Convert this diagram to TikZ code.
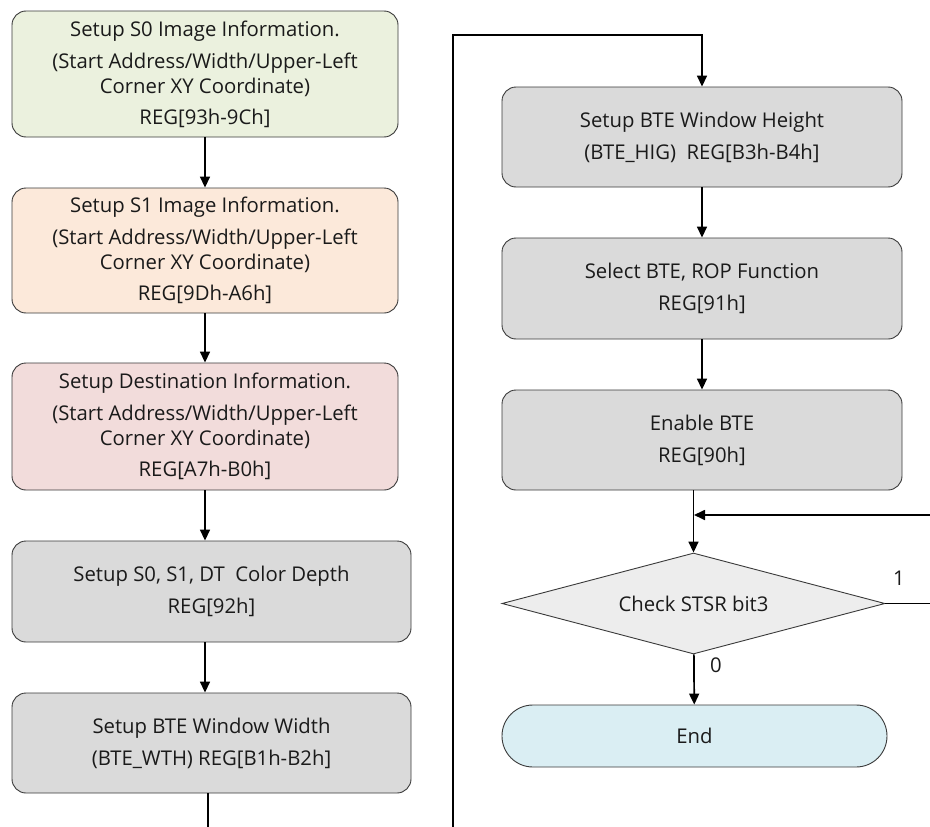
\documentclass[tikz,border=0pt]{standalone}
\usepackage{fontspec}
\setmainfont{Open Sans}
\usepackage{tikz}
\usetikzlibrary{arrows.meta,positioning,shapes.geometric}
\definecolor{edge}{HTML}{3A3A3A}
\definecolor{srcA}{HTML}{EBF1DE}
\definecolor{srcB}{HTML}{FCE9DA}
\definecolor{dest}{HTML}{F2DCDB}
\definecolor{regbox}{HTML}{DADADA}
\definecolor{chkbox}{HTML}{EDEDED}
\definecolor{endbox}{HTML}{DAEEF3}
\definecolor{ink}{HTML}{1A1A1A}

\tikzset{
  proc/.style={draw=edge, line width=0.9pt, fill=regbox, rounded corners=14pt, align=center,
    inner sep=0pt, minimum width=386pt, minimum height=100pt, text=ink,
    font=\fontsize{20.3}{25}\selectfont},
  wideproc/.style={proc, minimum width=399pt},
  rightproc/.style={proc, minimum width=400pt},
  dec/.style={draw=edge, line width=0.9pt, fill=chkbox, diamond, aspect=4, inner sep=0pt,
    minimum width=383pt, minimum height=101pt, text=ink,
    font=\fontsize{20.3}{25}\selectfont},
  term/.style={draw=edge, line width=0.9pt, fill=endbox, rounded corners=30.9pt, inner sep=0pt,
    minimum width=385pt, minimum height=62pt, text=ink,
    font=\fontsize{20.3}{25}\selectfont},
  arr/.style={line width=1.7pt, -{Triangle[length=11pt,width=10pt]}},
  lbl/.style={text=ink, font=\fontsize{20.3}{25}\selectfont}
}

\begin{document}
\begin{tikzpicture}[x=1pt,y=-1pt]
  \clip (0,0) rectangle (930,827);
  \fill[white] (0,0) rectangle (930,827);

  % left column
  \node[proc, fill=srcA, minimum height=126pt] (s0) at (205,74) {Setup S0 Image Information.\\[7pt]
    (Start Address/Width/Upper-Left\\ Corner XY Coordinate)\\[6pt] REG[93h-9Ch]};
  \node[proc, fill=srcB, minimum height=125pt] (s1) at (205,250.5) {Setup S1 Image Information.\\[7pt]
    (Start Address/Width/Upper-Left\\ Corner XY Coordinate)\\[6pt] REG[9Dh-A6h]};
  \node[proc, fill=dest, minimum height=127pt] (dt) at (205,426.5) {Setup Destination Information.\\[7pt]
    (Start Address/Width/Upper-Left\\ Corner XY Coordinate)\\[6pt] REG[A7h-B0h]};
  \node[wideproc, minimum height=101pt] (depth) at (211.5,591.5) {Setup S0, S1, DT\ \ Color Depth\\[7pt] REG[92h]};
  \node[wideproc] (wth) at (211.5,743) {Setup BTE Window Width\\[7pt] (BTE\_WTH) REG[B1h-B2h]};

  % right column
  \node[rightproc] (hig) at (702,137) {Setup BTE Window Height\\[7pt] (BTE\_HIG)\ \ REG[B3h-B4h]};
  \node[rightproc, minimum height=101pt] (rop) at (702,288.5) {Select BTE, ROP Function\\[7pt] REG[91h]};
  \node[rightproc] (en) at (702,440) {Enable BTE\\[7pt] REG[90h]};
  \node[dec] (chk) at (693.5,603.5) {Check STSR bit3};
  \node[term] (fin) at (694.5,736) {End};

  \coordinate (lowturn) at (453,845);
  \coordinate (upturn) at (453,35);
  \coordinate (rturn) at (945,603.5);
  \coordinate (merge) at (694,515);

  % connectors
  \draw[arr] (s0) -- (s1);
  \draw[arr] (s1) -- (dt);
  \draw[arr] (dt.south) -- (dt.south |- depth.north);
  \draw[arr] (depth.south -| dt.south) -- (wth.north -| dt.south);
  \draw[arr] (wth.south -| 208,0) -- (lowturn -| 208,0) -| (upturn) -| (hig);
  \draw[arr] (hig) -- (rop);
  \draw[arr] (rop) -- (en);
  \draw[arr] (en.south -| chk) -- (chk);
  \draw[arr] (chk) -- (fin) node[lbl, pos=0.22, right=12pt] {0};
  \draw[arr] (chk.east) -- (rturn) |- (merge);
  \node[lbl] (one) at (899,578) {1};
\end{tikzpicture}
\end{document}
